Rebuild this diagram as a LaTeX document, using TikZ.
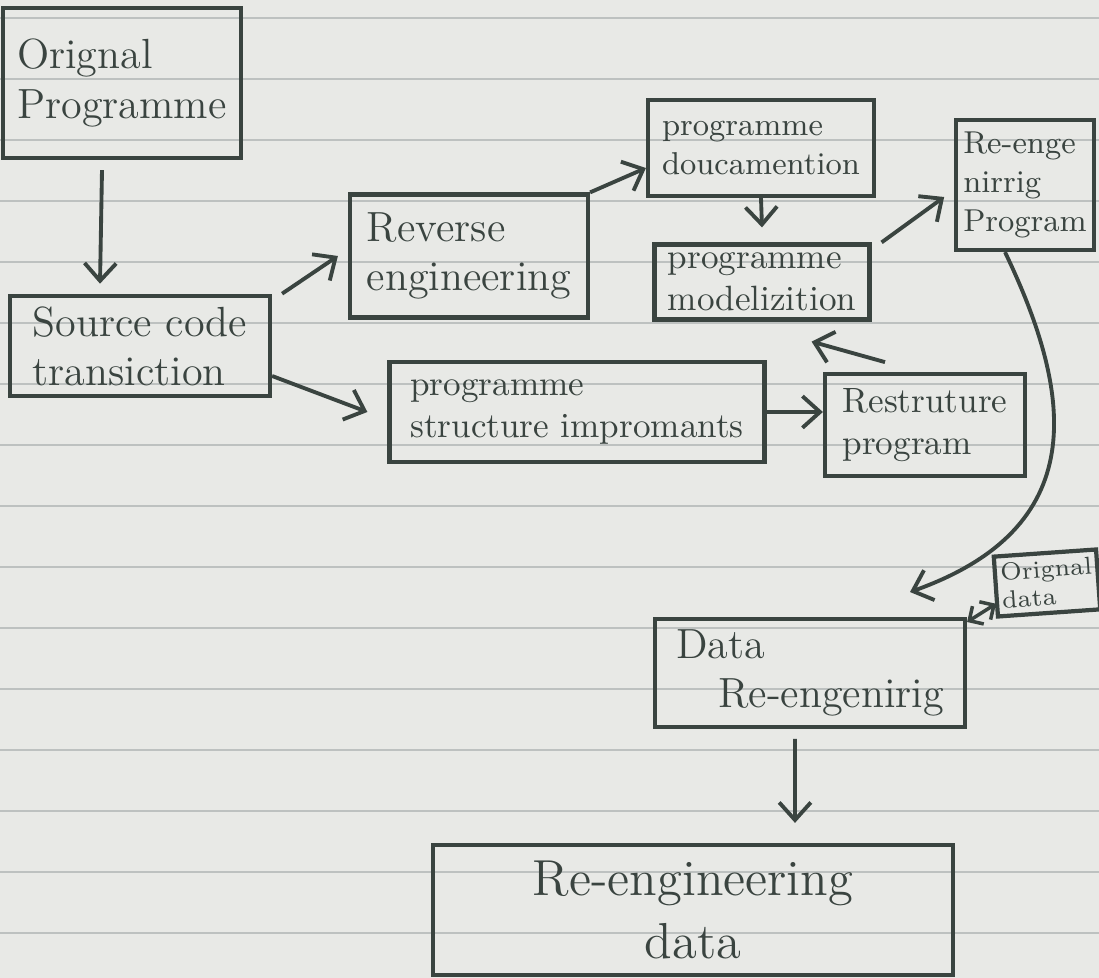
\documentclass[tikz,border=0pt]{standalone}
\usepackage{tikz}
\usetikzlibrary{arrows.meta}

\definecolor{ink}{HTML}{3A4440}
\definecolor{paper}{HTML}{E8E9E6}
\definecolor{ruling}{HTML}{BDC1C0}

\tikzset{
  box/.style={draw=ink, line width=1.2pt, text=ink, align=left, inner sep=4pt},
  flow/.style={draw=ink, line width=1.1pt, -{Straight Barb[length=5pt,width=9pt]}},
  twoway/.style={draw=ink, line width=1pt, {Straight Barb[length=3pt,width=6pt]}-{Straight Barb[length=3pt,width=6pt]}},
}

\begin{document}
\begin{tikzpicture}
  \fill[paper] (0,0) rectangle (10.99,9.78);
  \useasboundingbox (0,0) rectangle (10.99,9.78);
  % ruled paper
  \foreach \y in {0.45,1.06,...,9.7}
    \draw[ruling, line width=0.6pt] (0,\y) -- (10.99,\y);

  \node[box, minimum width=2.25cm, minimum height=1.5cm, font=\large] (orig) at (1.22,8.95) {Orignal\\Programme};
  \node[box, minimum width=2.6cm, minimum height=1.0cm, inner sep=3pt, font=\large] (source) at (1.40,6.32) {Source code\\transiction};
  \node[box, minimum width=2.38cm, minimum height=1.23cm, font=\large] (reverse) at (4.69,7.22) {Reverse\\engineering};
  \node[box, minimum width=2.23cm, minimum height=0.96cm, font=\small] (doc) at (7.61,8.30) {programme\\doucamention};
  \node[box, minimum width=2.15cm, minimum height=0.75cm, inner sep=2pt] (model) at (7.62,6.96) {programme\\modelizition};
  \node[box, minimum width=1.26cm, minimum height=1.3cm, inner sep=2pt, font=\small] (reprog) at (10.25,7.93) {Re-enge\\nirrig\\Program};
  \node[box, minimum width=3.75cm, minimum height=1.0cm] (struct) at (5.77,5.66) {programme\\structure impromants};
  \node[box, minimum width=2.0cm, minimum height=0.8cm] (restruct) at (9.25,5.53) {Restruture\\program};
  \node[box, minimum width=0.95cm, minimum height=0.6cm, inner sep=1.5pt, font=\scriptsize, rotate=4] (origdata) at (10.47,3.95) {Orignal\\data};
  \node[box, minimum width=3.1cm, minimum height=0.97cm, inner sep=3pt, font=\large] (datare) at (8.10,3.05) {Data\\\quad Re-engenirig};
  \node[box, minimum width=5.2cm, minimum height=1.3cm, align=center, font=\Large] (redata) at (6.93,0.68) {Re-engineering\\data};

  \path (datare.south |- redata.north) ++(-0.15,0.2) coordinate (rdtop);

  \draw[flow] ([xshift=-2mm,yshift=-1mm]orig.south) -- ([xshift=-4mm,yshift=1mm]source.north);
  \draw[flow] ([xshift=1mm]source.north east) -- ([xshift=-1mm]reverse.west);
  \draw[flow] ([yshift=-3mm]source.east) -- ([xshift=-2mm]struct.west);
  \draw[flow] (reverse.north east) -- ([yshift=-2mm]doc.west);
  \draw[flow] (doc.south) -- ([yshift=1.5mm]model.north);
  \draw[flow] ([xshift=1mm]model.north east) -- ([shift={(-0.1,-0.12)}]reprog.west);
  \draw[flow] ([xshift=-4mm,yshift=1mm]restruct.north) -- ([xshift=-6mm,yshift=-2mm]model.south east);
  \draw[flow] (struct.east) -- (struct.east -| restruct.west);
  \draw[flow] ([xshift=-2mm]reprog.south) .. controls (10.75,5.8) and (10.9,4.5) .. ([xshift=1cm,yshift=2.5mm]datare.north);
  \draw[twoway] ([yshift=-0.5mm]datare.north east) -- ([yshift=1.5mm]origdata.south west);
  \draw[flow] ([xshift=-1.5mm,yshift=-1mm]datare.south) -- (rdtop);
\end{tikzpicture}
\end{document}
